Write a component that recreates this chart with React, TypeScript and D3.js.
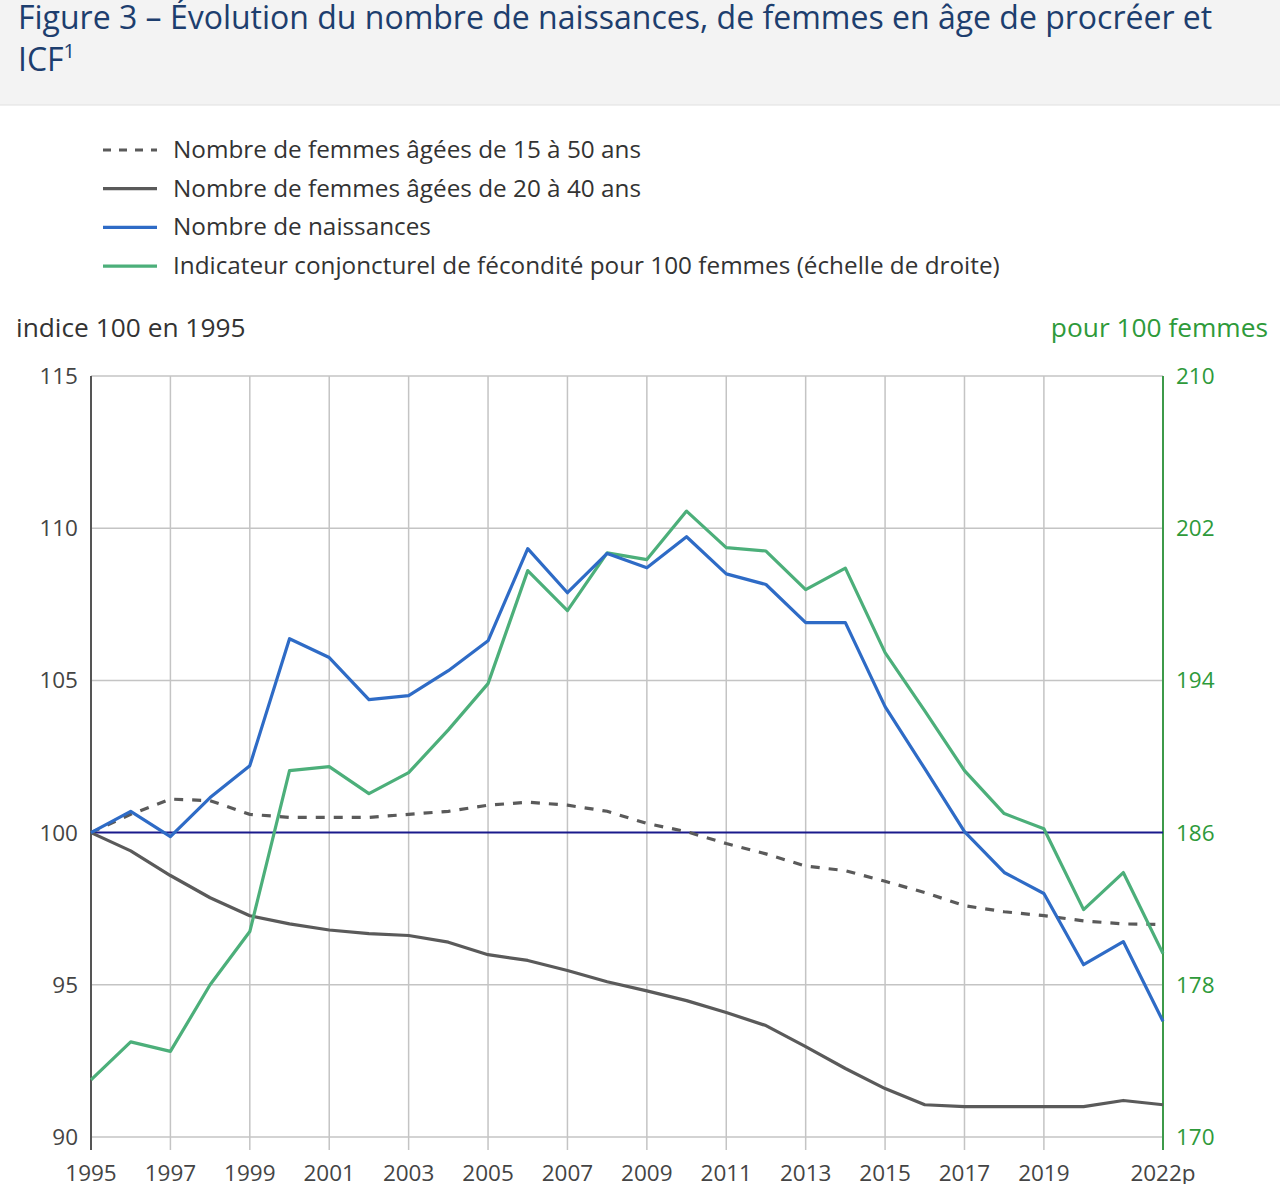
import React, { useEffect, useRef } from 'react';
import * as d3 from 'd3';

// années 1995 → 2022
const years = d3.range(1995, 2023);
const xTickYears = [1995, 1997, 1999, 2001, 2003, 2005, 2007, 2009, 2011, 2013, 2015, 2017, 2019, 2022];
const xTickLabels = ['1995', '1997', '1999', '2001', '2003', '2005', '2007', '2009', '2011', '2013', '2015', '2017', '2019', '2022p'];
const leftTicks = [90, 95, 100, 105, 110, 115];
const rightTicks = [170, 178, 186, 194, 202, 210];

// indice 100 en 1995
const naissances = [100, 100.7, 99.87, 101.15, 102.2, 106.37, 105.75, 104.37, 104.5, 105.32, 106.3, 109.33, 107.88, 109.17, 108.7, 109.72, 108.5, 108.15, 106.9, 106.9, 104.14, 102.1, 100.03, 98.69, 98.0, 95.66, 96.42, 93.8];
const femmes15_50 = [100, 100.6, 101.1, 101.05, 100.6, 100.5, 100.5, 100.5, 100.6, 100.7, 100.9, 101.0, 100.9, 100.7, 100.3, 100.03, 99.64, 99.3, 98.9, 98.75, 98.4, 98.03, 97.6, 97.4, 97.27, 97.1, 97.0, 96.98];
const femmes20_40 = [100, 99.4, 98.59, 97.86, 97.27, 97.0, 96.8, 96.68, 96.62, 96.4, 95.99, 95.8, 95.47, 95.1, 94.8, 94.48, 94.09, 93.66, 92.97, 92.25, 91.59, 91.06, 91.0, 91.0, 91.0, 91.0, 91.2, 91.06];
// ICF pour 100 femmes (échelle de droite)
const icf = [173, 175, 174.5, 178, 180.8, 189.26, 189.47, 188.05, 189.15, 191.4, 193.83, 199.77, 197.67, 200.7, 200.35, 202.9, 200.98, 200.8, 198.77, 199.9, 195.46, 192.4, 189.26, 187.0, 186.2, 181.95, 183.9, 179.64];

const legendItems = [
  { label: 'Nombre de femmes âgées de 15 à 50 ans', color: '#5a5a5a', dash: '8,8' },
  { label: 'Nombre de femmes âgées de 20 à 40 ans', color: '#5a5a5a', dash: null },
  { label: 'Nombre de naissances', color: '#2e6bc6', dash: null },
  { label: 'Indicateur conjoncturel de fécondité pour 100 femmes (échelle de droite)', color: '#4caf7a', dash: null },
];

const FONT = '"Open Sans", "Noto Sans", sans-serif';

const App: React.FC = () => {
  const svgRef = useRef<SVGSVGElement | null>(null);

  useEffect(() => {
    if (!svgRef.current) return;
    const width = 1280;
    const height = 1184;
    const margin = { top: 376, right: 117, bottom: 47, left: 91 };

    const svg = d3.select(svgRef.current);
    svg.selectAll('*').remove();

    // bandeau du titre
    svg.append('rect').attr('x', 0).attr('y', 0).attr('width', width).attr('height', 105).attr('fill', '#f3f3f3');
    svg.append('line').attr('x1', 0).attr('x2', width).attr('y1', 105).attr('y2', 105).attr('stroke', '#e0e0e0');

    svg.append('text').attr('x', 18).attr('y', 29)
      .attr('font-family', FONT).attr('font-size', 32).attr('fill', '#1d3e6e')
      .text('Figure 3 – Évolution du nombre de naissances, de femmes en âge de procréer et');
    const l2 = svg.append('text').attr('font-family', FONT).attr('font-size', 32).attr('fill', '#1d3e6e').attr('x', 18).attr('y', 71);
    l2.append('tspan').text('ICF');
    l2.append('tspan').attr('font-size', 20).attr('dy', -13).text('1');

    // légende
    legendItems.forEach((it, i) => {
      const y = 150 + i * 38.7;
      svg.append('line')
        .attr('x1', 103).attr('x2', 157).attr('y1', y).attr('y2', y)
        .attr('stroke', it.color).attr('stroke-width', 3.2)
        .attr('stroke-dasharray', it.dash);
      svg.append('text').attr('x', 173).attr('y', y + 8)
        .attr('font-family', FONT).attr('font-size', 24.3).attr('fill', '#333')
        .text(it.label);
    });

    svg.append('text').attr('x', 16).attr('y', 337).attr('font-family', FONT).attr('font-size', 26.3).attr('fill', '#333').text('indice 100 en 1995');
    svg.append('text').attr('x', 1268).attr('y', 337).attr('text-anchor', 'end').attr('font-family', FONT).attr('font-size', 26.3).attr('fill', '#2e9a3a').text('pour 100 femmes');

    const x = d3.scaleLinear().domain([1995, 2022]).range([margin.left, width - margin.right]);
    const y = d3.scaleLinear().domain([90, 115]).range([height - margin.bottom, margin.top]);
    const y2 = d3.scaleLinear().domain([170, 210]).range([height - margin.bottom, margin.top]);

    // grille
    const grid = svg.append('g');
    grid.selectAll('line.v').data(xTickYears.filter(d => d !== 2022 && d !== 1995)).join('line')
      .attr('x1', d => x(d)).attr('x2', d => x(d))
      .attr('y1', margin.top).attr('y2', height - margin.bottom + 13)
      .attr('stroke', '#c4c4c4').attr('stroke-width', 1.5);
    grid.selectAll('line.h').data(leftTicks.filter(d => d !== 100)).join('line')
      .attr('x1', margin.left).attr('x2', width - margin.right)
      .attr('y1', d => y(d)).attr('y2', d => y(d))
      .attr('stroke', '#c4c4c4').attr('stroke-width', 1.5);

    // axes
    svg.append('line').attr('x1', x(1995)).attr('x2', x(1995)).attr('y1', margin.top).attr('y2', height - margin.bottom + 13)
      .attr('stroke', '#555').attr('stroke-width', 2);
    svg.append('line').attr('x1', x(2022)).attr('x2', x(2022)).attr('y1', margin.top).attr('y2', height - margin.bottom + 13)
      .attr('stroke', '#3d9a4a').attr('stroke-width', 2);

    svg.append('g').selectAll('text').data(leftTicks).join('text')
      .attr('x', 78).attr('y', d => y(d) + 8).attr('text-anchor', 'end')
      .attr('font-family', FONT).attr('font-size', 22.5).attr('fill', '#444')
      .text(d => d);
    svg.append('g').selectAll('text').data(rightTicks).join('text')
      .attr('x', 1176).attr('y', d => y2(d) + 8)
      .attr('font-family', FONT).attr('font-size', 22.5).attr('fill', '#2e9a3a')
      .text(d => d);
    svg.append('g').selectAll('text').data(xTickYears).join('text')
      .attr('x', d => x(d)).attr('y', 1181).attr('text-anchor', 'middle')
      .attr('font-family', FONT).attr('font-size', 22.5).attr('fill', '#444')
      .text((d, i) => xTickLabels[i]);

    // ligne de référence 100
    svg.append('line').attr('x1', margin.left).attr('x2', width - margin.right)
      .attr('y1', y(100)).attr('y2', y(100)).attr('stroke', '#1a1a8c').attr('stroke-width', 2);

    const lineL = d3.line<number>().x((_, i) => x(years[i])).y(d => y(d));
    const lineR = d3.line<number>().x((_, i) => x(years[i])).y(d => y2(d));

    svg.append('path').datum(femmes20_40).attr('d', lineL).attr('fill', 'none')
      .attr('stroke', '#5a5a5a').attr('stroke-width', 3.2).attr('stroke-linejoin', 'round');
    svg.append('path').datum(femmes15_50).attr('d', lineL).attr('fill', 'none')
      .attr('stroke', '#5a5a5a').attr('stroke-width', 3.2).attr('stroke-dasharray', '9,9');
    svg.append('path').datum(icf).attr('d', lineR).attr('fill', 'none')
      .attr('stroke', '#4caf7a').attr('stroke-width', 3.2).attr('stroke-linejoin', 'round');
    svg.append('path').datum(naissances).attr('d', lineL).attr('fill', 'none')
      .attr('stroke', '#2e6bc6').attr('stroke-width', 3.2).attr('stroke-linejoin', 'round');
  }, []);

  return (
    <div style={{ position: 'absolute', left: 0, top: 0, background: '#fff' }}>
      <svg ref={svgRef} width={1280} height={1184} style={{ display: 'block' }}></svg>
    </div>
  );
};

export default App;
